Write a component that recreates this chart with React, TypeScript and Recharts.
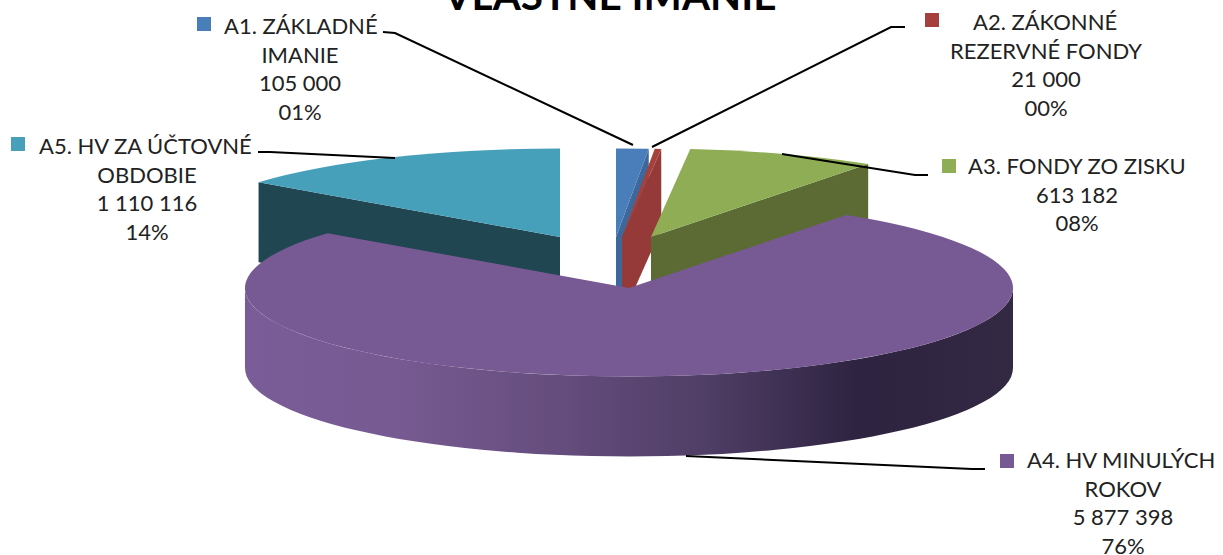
import { PieChart, Pie } from "recharts";

const names = ["A1", "A2", "A3", "A4", "A5"];
const titleLines = [
  ["A1. ZÁKLADNÉ", "IMANIE"],
  ["A2. ZÁKONNÉ", "REZERVNÉ FONDY"],
  ["A3. FONDY ZO ZISKU"],
  ["A4. HV MINULÝCH", "ROKOV"],
  ["A5. HV ZA ÚČTOVNÉ", "OBDOBIE"],
];
const values = [105000, 21000, 613182, 5877398, 1110116];

const total = values.reduce((a, b) => a + b, 0);
const rows = names.map((name, i) => ({ name, value: values[i], index: i }));

const formatValue = (v: number) => String(v).replace(/\B(?=(\d{3})+$)/g, " ");
const formatPct = (v: number) => String(Math.round((v / total) * 100)).padStart(2, "0") + "%";

const CX = 629;
const CY = 288;
const RX = 384;
const RY = 88.5;
const DEPTH = 80;

// how far each slice is pulled away from the pie centre
const explode: Record<string, [number, number]> = {
  A1: [-13, -51],
  A2: [-7, -51],
  A3: [22, -51],
  A4: [0, 0],
  A5: [-69, -51],
};

const topFill: Record<string, string> = {
  A1: "#4a7ebb",
  A2: "#a5403c",
  A3: "#8fad55",
  A4: "#775a93",
  A5: "#47a0ba",
};
const wallFill: Record<string, string> = {
  A1: "#3c689c",
  A2: "#953a38",
  A3: "#5b6b33",
  A4: "url(#gradA4Wall)",
  A5: "#1f4651",
};

const labelPos: Record<
  string,
  { key: [number, number]; textX: number; center: number; y: number; line: number[][] }
> = {
  A1: { key: [197, 17], textX: 224, center: 300, y: 34, line: [[383, 32], [395, 33], [633, 145]] },
  A2: { key: [925, 13], textX: 973, center: 1046, y: 30, line: [[905, 27], [891, 27], [652, 147]] },
  A3: { key: [942, 159], textX: 968, center: 1077, y: 174, line: [[782, 154], [915, 175], [928, 175]] },
  A4: { key: [1000, 454], textX: 1027, center: 1123, y: 468, line: [[686, 456], [972, 469], [985, 469]] },
  A5: { key: [11, 137], textX: 39, center: 147, y: 154, line: [[395, 158], [270, 152], [258, 152]] },
};

const rad = (d: number) => (d * Math.PI) / 180;

function point(tx: number, ty: number, deg: number) {
  return [tx + RX * Math.sin(rad(deg)), ty - RY * Math.cos(rad(deg))];
}

function arc(to: number[], large: boolean, sweep: number) {
  return `A${RX} ${RY} 0 ${large ? 1 : 0} ${sweep} ${to[0]} ${to[1]}`;
}

// draws one slice as a flattened 3D wedge from the angles the Pie computed
function Slice3D(props: any) {
  const name = props.payload?.name ?? props.name;
  const [ox, oy] = explode[name];
  const tx = props.cx + ox;
  const ty = props.cy + oy;
  const a0 = 90 - props.startAngle;
  const a1 = 90 - props.endAngle;
  const p0 = point(tx, ty, a0);
  const p1 = point(tx, ty, a1);

  const walls = [];
  const cut = (p: number[]) =>
    `M${tx} ${ty}L${p[0]} ${p[1]}L${p[0]} ${p[1] + DEPTH}L${tx} ${ty + DEPTH}Z`;
  if (Math.sin(rad(a1)) > 0.001) walls.push(cut(p1));
  if (Math.sin(rad(a0)) < -0.001) walls.push(cut(p0));

  // front rim, only the part facing the viewer
  const f0 = Math.max(a0, 90);
  const f1 = Math.min(a1, 270);
  if (f1 > f0) {
    const r0 = point(tx, ty, f0);
    const r1 = point(tx, ty, f1);
    walls.push(
      `M${r0[0]} ${r0[1]}${arc(r1, f1 - f0 > 180, 1)}L${r1[0]} ${r1[1] + DEPTH}` +
        `${arc([r0[0], r0[1] + DEPTH], f1 - f0 > 180, 0)}Z`
    );
  }

  return (
    <g>
      {walls.map((d, i) => (
        <path key={i} d={d} fill={wallFill[name]} />
      ))}
      <path
        d={`M${tx} ${ty}L${p0[0]} ${p0[1]}${arc(p1, a1 - a0 > 180, 1)}Z`}
        fill={topFill[name]}
      />
    </g>
  );
}

const BackSlices = (props: any) =>
  (props.payload?.name ?? props.name) === "A4" ? <g /> : <Slice3D {...props} />;
const FrontSlice = (props: any) =>
  (props.payload?.name ?? props.name) === "A4" ? <Slice3D {...props} /> : <g />;

function SliceLabel(props: any) {
  const i = props.index;
  const name = names[i];
  const pos = labelPos[name];
  const lines = [...titleLines[i], formatValue(values[i]), formatPct(values[i])];
  return (
    <g>
      <polyline
        points={pos.line.map((p) => p.join(",")).join(" ")}
        fill="none"
        stroke="#000"
        strokeWidth={2}
      />
      <rect x={pos.key[0]} y={pos.key[1]} width={14} height={14} fill={topFill[name]} />
      {lines.map((t, n) => (
        <text
          key={n}
          x={n === 0 ? pos.textX : pos.center}
          y={pos.y + n * 28.5}
          textAnchor={n === 0 ? "start" : "middle"}
          fontSize={22}
          fontFamily="Lato"
          fill="#222"
        >
          {t}
        </text>
      ))}
    </g>
  );
}

const pieProps = {
  data: rows,
  dataKey: "value",
  nameKey: "name",
  cx: CX,
  cy: CY,
  outerRadius: RX,
  startAngle: 90,
  endAngle: -270,
  stroke: "none",
  isAnimationActive: false,
};

export default function App() {
  return (
    <div style={{ position: "absolute", left: 0, top: 0, width: 1223, height: 555, background: "#fff" }}>
      <PieChart width={1223} height={555} margin={{ top: 0, right: 0, bottom: 0, left: 0 }}>
        <defs>
          <linearGradient id="gradA4Wall" gradientUnits="userSpaceOnUse" x1={246} y1={0} x2={1012} y2={0}>
            <stop offset="0%" stopColor="#7a5c98" />
            <stop offset="20%" stopColor="#765a91" />
            <stop offset="42%" stopColor="#644c7c" />
            <stop offset="60%" stopColor="#4f3e66" />
            <stop offset="80%" stopColor="#2e2340" />
            <stop offset="100%" stopColor="#342943" />
          </linearGradient>
        </defs>
        <Pie {...pieProps} shape={BackSlices} />
        <Pie {...pieProps} shape={FrontSlice} />
        <Pie {...pieProps} shape={() => <g />} label={SliceLabel} labelLine={false} />
        <text x={610} y={10} textAnchor="middle" fontSize={40.5} fontWeight="bold" fontFamily="Lato" fill="#000">
          VLASTNÉ IMANIE
        </text>
      </PieChart>
    </div>
  );
}
